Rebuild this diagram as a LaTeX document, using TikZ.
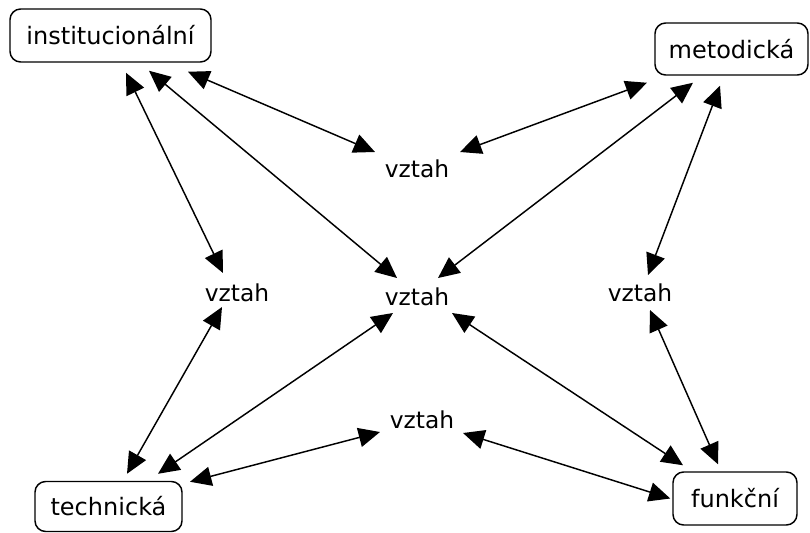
\documentclass[tikz,border=0pt]{standalone}
\usepackage{fontspec}
\setmainfont{DejaVu Sans}
\usetikzlibrary{arrows.meta}
\begin{document}
\begin{tikzpicture}[x=0.75pt,y=-0.75pt,
  box/.style={font=\fontsize{18}{21}\selectfont,draw,line width=1.1pt,rounded corners=8pt,inner sep=0pt},
  rel/.style={font=\fontsize{17.5}{20}\selectfont,inner sep=0pt},
  link/.style={{Triangle[length=16pt,width=14.5pt]}-{Triangle[length=16pt,width=14.5pt]},line width=1.1pt}]
\useasboundingbox (0,0) rectangle (810,532);
% category boxes
\node[box,minimum width=150.75pt,minimum height=39.75pt] (inst) at (110.5,35.5) {institucionální};
\node[box,minimum width=114.75pt,minimum height=39pt] (met) at (731.5,49) {metodická};
\node[box,minimum width=110.25pt,minimum height=37.5pt] (tech) at (108.5,506.5) {technická};
\node[box,minimum width=93pt,minimum height=39.75pt] (fun) at (735,498.5) {funkční};
% relation labels
\node[rel] (vtop) at (417,169) {vztah};
\node[rel] (vctr) at (417,297) {vztah};
\node[rel] (vleft) at (237,293) {vztah};
\node[rel] (vright) at (640,293) {vztah};
\node[rel] (vbot) at (422,420) {vztah};
% connectors
\draw[link] ([shift={(15.5,10)}]inst.south) -- ([shift={(-14,-20)}]vleft.center);
\draw[link] ([shift={(38.5,8)}]inst.south) -- ([shift={(-20,-19)}]vctr.center);
\draw[link] ([shift={(77.5,9)}]inst.south) -- ([shift={(-42,-17)}]vtop.center);
\draw[link] ([shift={(-84.5,7)}]met.south) -- ([shift={(43,-17)}]vtop.center);
\draw[link] ([shift={(-38.5,7)}]met.south) -- ([shift={(21,-19)}]vctr.center);
\draw[link] ([shift={(-11.5,10)}]met.south) -- ([shift={(8,-18)}]vright.center);
\draw[link] ([shift={(18.5,-7)}]tech.north) -- ([shift={(-15,14)}]vleft.center);
\draw[link] ([shift={(49.5,-7)}]tech.north) -- ([shift={(-24,16)}]vctr.center);
\draw[link] ([shift={(81.5,1)}]tech.north) -- ([shift={(-42,12)}]vbot.center);
\draw[link] ([shift={(-52,-6)}]fun.north) -- ([shift={(35,16)}]vctr.center);
\draw[link] ([shift={(-17,-7)}]fun.north) -- ([shift={(10,17)}]vright.center);
\draw[link] ([shift={(-2,0)}]fun.west) -- ([shift={(41,13)}]vbot.center);
\end{tikzpicture}
\end{document}
